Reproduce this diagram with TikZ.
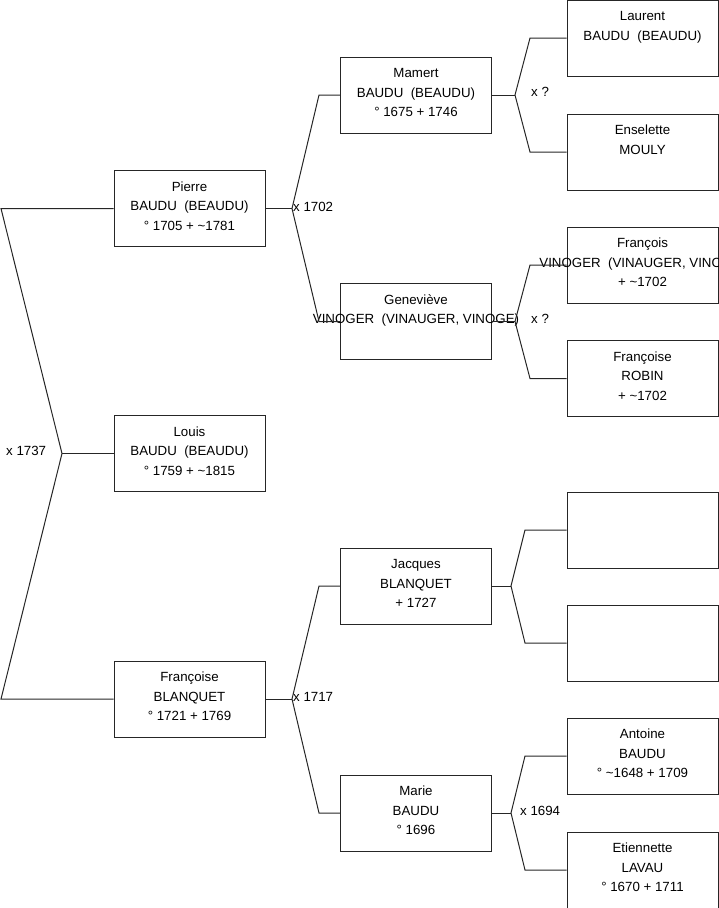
\documentclass[tikz,border=0pt]{standalone}
\usepackage{fontspec}
\setmainfont{Liberation Sans}
\newcommand\lnstrut{\rule[-5.5pt]{0pt}{15pt}}
\begin{document}
\begin{tikzpicture}[x=1pt,y=-1pt,
  pbox/.style={draw=black!85, line width=1pt, minimum width=151pt, minimum height=76pt,
    inner sep=0pt, align=center, font=\fontsize{13.3}{19.5}\selectfont, anchor=center},
  conn/.style={draw=black!85, line width=1pt},
  lbl/.style={anchor=west, inner sep=0pt, font=\fontsize{13.3}{16}\selectfont}]
\useasboundingbox (0,0) rectangle (719,908);
% level 1
\node[pbox] (pierre) at (189.5,208.5) {\lnstrut Pierre\\\lnstrut BAUDU\ \ (BEAUDU)\\\lnstrut{}° 1705 + \textasciitilde1781};
\node[pbox] (louis) at (189.5,453.5) {\lnstrut Louis\\\lnstrut BAUDU\ \ (BEAUDU)\\\lnstrut{}° 1759 + \textasciitilde1815};
\node[pbox] (francoise) at (189.5,699) {\lnstrut Françoise\\\lnstrut BLANQUET\\\lnstrut{}° 1721 + 1769};
% level 2
\node[pbox] (mamert) at (416,95) {\lnstrut Mamert\\\lnstrut BAUDU\ \ (BEAUDU)\\\lnstrut{}° 1675 + 1746};
\node[pbox] (genevieve) at (416,321.5) {\lnstrut Geneviève\\\lnstrut\makebox[0pt]{VINOGER\ \ (VINAUGER, VINOGE)}\\\lnstrut};
\node[pbox] (jacques) at (416,586) {\lnstrut Jacques\\\lnstrut BLANQUET\\\lnstrut{}+ 1727};
\node[pbox] (marie) at (416,813) {\lnstrut Marie\\\lnstrut BAUDU\\\lnstrut{}° 1696};
% level 3
\node[pbox] (laurent) at (642.5,38) {\lnstrut Laurent\\\lnstrut BAUDU\ \ (BEAUDU)\\\lnstrut};
\node[pbox] (enselette) at (642.5,152) {\lnstrut Enselette\\\lnstrut MOULY\\\lnstrut};
\node[pbox] (francois) at (642.5,265) {\lnstrut François\\\lnstrut\makebox[0pt]{VINOGER\ \ (VINAUGER, VINOGE)}\\\lnstrut{}+ \textasciitilde1702};
\node[pbox] (robin) at (642.5,378.5) {\lnstrut Françoise\\\lnstrut ROBIN\\\lnstrut{}+ \textasciitilde1702};
\node[pbox] (empty1) at (642.5,530) {};
\node[pbox] (empty2) at (642.5,643) {};
\node[pbox] (antoine) at (642.5,756) {\lnstrut Antoine\\\lnstrut BAUDU\\\lnstrut{}° \textasciitilde1648 + 1709};
\node[pbox] (etiennette) at (642.5,870) {\lnstrut Etiennette\\\lnstrut LAVAU\\\lnstrut{}° 1670 + 1711};
% junction coordinates
\coordinate (j0) at (62,453.5);
\coordinate (j0a) at (1,208.5);
\coordinate (j0b) at (1,699);
\coordinate (j1) at (292,208.5);
\coordinate (j1a) at (319,95);
\coordinate (j1b) at (319,321.5);
\coordinate (j2) at (515,95);
\coordinate (j2a) at (530,38);
\coordinate (j2b) at (530,152);
\coordinate (j3) at (515,321.5);
\coordinate (j3a) at (530,265);
\coordinate (j3b) at (530,378.5);
\coordinate (j4) at (292,699);
\coordinate (j4a) at (319,586);
\coordinate (j4b) at (319,813);
\coordinate (j5) at (511,586);
\coordinate (j5a) at (525,530);
\coordinate (j5b) at (525,643);
\coordinate (j6) at (511,813);
\coordinate (j6a) at (525,756);
\coordinate (j6b) at (525,870);
% connectors
\draw[conn] (pierre.west) -- (j0a) -- (j0) -- (j0b) -- (francoise.west);
\draw[conn] (louis.west) -- (j0);
\draw[conn] (pierre.east) -- (j1);
\draw[conn] (mamert.west) -- (j1a) -- (j1) -- (j1b) -- (genevieve.west);
\draw[conn] (mamert.east) -- (j2);
\draw[conn] (laurent.west) -- (j2a) -- (j2) -- (j2b) -- (enselette.west);
\draw[conn] (genevieve.east) -- (j3);
\draw[conn] (francois.west) -- (j3a) -- (j3) -- (j3b) -- (robin.west);
\draw[conn] (francoise.east) -- (j4);
\draw[conn] (jacques.west) -- (j4a) -- (j4) -- (j4b) -- (marie.west);
\draw[conn] (jacques.east) -- (j5);
\draw[conn] (empty1.west) -- (j5a) -- (j5) -- (j5b) -- (empty2.west);
\draw[conn] (marie.east) -- (j6);
\draw[conn] (antoine.west) -- (j6a) -- (j6) -- (j6b) -- (etiennette.west);
% labels
\node[lbl] (m0) at (6,451) {x 1737};
\node[lbl] (m1) at (293,207) {x 1702};
\node[lbl] (m2) at (531,92) {x ?};
\node[lbl] (m3) at (531,319) {x ?};
\node[lbl] (m4) at (293,697) {x 1717};
\node[lbl] (m6) at (520,811) {x 1694};
\end{tikzpicture}
\end{document}
